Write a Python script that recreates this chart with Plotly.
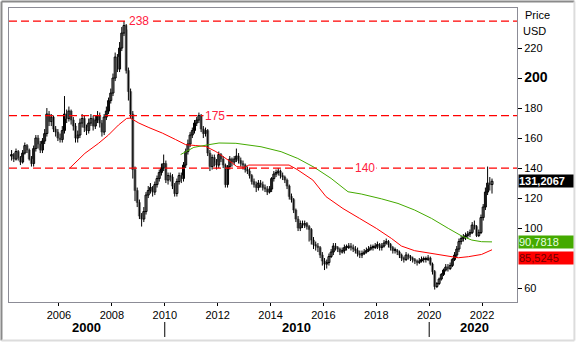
import plotly.graph_objects as go

# ---------------- data (monthly candles, Mar 2004 .. May 2022) ----------------
first_open = 148
close = [
    149,146,151,147,144,150,155,152,146,143,                      # 2004 (Mar-Dec)
    153,160,156,152,158,163,176,171,174,166,164,160,              # 2005
    159,165,176,173,178,172,168,160,162,170,173,167,              # 2006
    165,170,173,168,172,175,170,164,174,178,185,190,              # 2007
    200,214,206,220,230,235,205,191,176,139,125,117,              # 2008
    108,106,111,122,125,127,124,129,133,137,140,143,              # 2009
    132,135,134,128,123,131,135,133,142,151,156,162,              # 2010
    165,170,172,175,166,163,165,150,141,147,144,142,              # 2011
    149,146,142,129,141,146,144,146,148,145,143,142,              # 2012
    139,138,135,131,129,127,130,129,127,126,124,126,              # 2013
    133,136,137,138,135,134,132,128,121,119,112,106,              # 2014
    100,103,102,103,101,99,92,89,88,87,82,78,                     # 2015
    76,77,81,84,88,87,86,84,85,87,87,88,                          # 2016
    87,86,85,83,82,83,84,85,86,87,87,88,                          # 2017
    89,87,88,90,91,89,87,85,85,84,82,80,                          # 2018
    79,82,81,80,79,78,77,78,79,79,79,80,                          # 2019
    76,71,61,63,66,69,72,74,73,75,79,82,                          # 2020
    86,91,93,94,95,96,97,102,101,95,97,107,                       # 2021
    114,124,130,129,131.2067,                                     # 2022 (Jan-May)
]
high = [
    152,150,153,152,148,152,157,156,153,148,
    155,162,162,158,160,166,180,178,176,175,168,166,
    163,168,188,179,181,179,174,170,165,173,176,175,
    169,173,176,175,175,178,177,172,176,181,187,193,
    203,217,216,224,234,238,236,207,193,178,141,127,
    119,110,114,124,128,130,128,131,135,139,143,149,
    145,137,137,136,130,133,137,137,144,153,159,164,
    167,172,174,177,176,168,167,166,152,149,149,146,
    151,150,148,143,142,148,147,148,153,150,147,145,
    143,141,140,136,133,131,132,132,131,129,128,128,
    134,138,139,140,139,137,135,133,129,123,120,113,
    108,105,105,105,104,102,100,94,91,90,88,84,
    80,79,83,86,90,90,88,87,87,89,89,90,
    90,89,88,87,85,85,86,87,88,89,89,90,
    91,90,90,92,93,92,90,88,87,86,85,83,
    81,84,83,82,81,80,79,80,81,81,81,82,
    81,77,72,64,67,70,73,76,76,77,80,84,
    88,93,95,96,97,98,99,104,105,102,99,109,
    116,127,141,134,133,
]
low = [
    145,144,145,145,142,143,149,150,145,141,
    141,151,153,150,150,156,161,168,168,164,161,158,
    157,157,163,170,171,169,165,157,157,160,167,164,
    162,163,168,165,166,170,167,161,162,172,176,183,
    188,198,204,204,218,228,203,185,173,133,118,114,
    106,101,104,109,120,123,121,122,127,131,135,138,
    130,129,131,126,121,121,129,130,131,140,149,154,
    160,163,168,170,164,160,161,148,138,139,141,139,
    140,144,140,127,127,139,141,142,144,143,141,139,
    137,136,133,129,127,124,125,127,125,124,122,123,
    124,131,134,135,133,132,130,126,119,117,110,104,
    98,98,100,100,99,91,89,86,85,84,80,75,
    72,73,75,80,82,85,84,82,83,83,85,86,
    85,84,83,81,80,80,82,83,84,85,85,86,
    86,85,85,87,89,87,85,83,83,82,80,78,
    77,78,79,78,77,76,75,76,77,77,77,78,
    75,69,59,60,62,65,68,71,71,72,74,78,
    80,84,89,91,92,93,94,96,99,94,94,96,
    105,112,122,125,123,
]
start_year, start_month = 2004, 3

# moving averages (decimal year, value)
ma_red_x = [2006.41, 2006.98, 2007.49, 2007.87, 2008.25, 2008.56, 2008.70, 2009.02, 2009.40,
            2009.91, 2010.41, 2010.79, 2011.17, 2011.55, 2011.93, 2012.31, 2012.56, 2012.72,
            2013.03, 2013.18, 2014.70, 2015.00, 2015.60, 2016.10, 2016.74, 2017.37, 2018.00,
            2018.57, 2018.95, 2019.45, 2020.09, 2020.72, 2021.10, 2021.48, 2021.98, 2022.375]
ma_red_y = [140.0, 149.8, 156.4, 162.0, 168.7, 173.1, 173.3, 170.0, 167.0,
            163.3, 159.0, 155.6, 155.0, 154.4, 151.0, 146.7, 143.3, 141.0,
            140.5, 142.0, 142.0, 139.1, 132.0, 120.9, 113.0, 106.4, 99.8,
            93.1, 88.0, 84.9, 83.1, 80.9, 80.2, 80.9, 82.4, 85.5245]
ma_green_x = [2010.60, 2011.10, 2011.67, 2012.05, 2012.69, 2012.88, 2013.64, 2014.40, 2015.03,
              2015.66, 2016.29, 2016.93, 2017.43, 2018.19, 2018.82, 2019.45, 2020.09, 2020.72,
              2021.23, 2021.61, 2021.98, 2022.375]
ma_green_y = [149.0, 153.8, 155.6, 156.7, 156.5, 156.0, 154.2, 150.9, 146.4,
              140.4, 133.1, 124.2, 122.7, 119.5, 116.4, 112.0, 106.4, 99.8,
              94.7, 92.0, 90.9, 90.7818]

levels = [238, 175, 140]
level_label_x = [2008.59, 2011.43, 2017.13]

x_ticks = [2006, 2008, 2010, 2012, 2014, 2016, 2018, 2020, 2022]
y_ticks = [60, 100, 120, 140, 160, 180, 200, 220]   # 80 is hidden behind the value boxes
decade_labels = ["2000", "2010", "2020"]
decade_label_x = [2007.03, 2015.0, 2021.7]
decade_sep_x = [2010, 2020]

last_labels = ["131,2067", "90,7818", "85,5245"]
last_values = [131.2067, 90.7818, 85.5245]

# ---------------- figure ----------------
n = len(close)
xs = [start_year + (start_month - 1 + i + 0.5) / 12.0 for i in range(n)]
opens = [first_open] + close[:-1]

FONT = "Liberation Sans, Arial, sans-serif"
fig = go.Figure()

# wicks
wx, wy = [], []
for x, h, l in zip(xs, high, low):
    wx += [x, x, None]
    wy += [l, h, None]
fig.add_trace(go.Scatter(x=wx, y=wy, mode="lines", line=dict(color="black", width=1),
                         showlegend=False, hoverinfo="skip"))

# bodies
up_x, up_b, up_h, dn_x, dn_b, dn_h = [], [], [], [], [], []
for x, o, c in zip(xs, opens, close):
    b = min(o, c)
    h = max(abs(c - o), 0.7)
    if c >= o:
        up_x.append(x); up_b.append(b); up_h.append(h)
    else:
        dn_x.append(x); dn_b.append(b); dn_h.append(h)
fig.add_trace(go.Bar(x=up_x, y=up_h, base=up_b, width=0.075,
                     marker=dict(color="white", line=dict(color="black", width=1)),
                     showlegend=False, hoverinfo="skip"))
fig.add_trace(go.Bar(x=dn_x, y=dn_h, base=dn_b, width=0.085,
                     marker=dict(color="#6a6a6a", line=dict(color="#6a6a6a", width=0.5)),
                     showlegend=False, hoverinfo="skip"))

fig.add_trace(go.Scatter(x=ma_red_x, y=ma_red_y, mode="lines",
                         line=dict(color="#ff0000", width=1), showlegend=False, hoverinfo="skip"))
fig.add_trace(go.Scatter(x=ma_green_x, y=ma_green_y, mode="lines",
                         line=dict(color="#44aa00", width=1), showlegend=False, hoverinfo="skip"))

shapes = []
annotations = []
for lv, lx in zip(levels, level_label_x):
    shapes.append(dict(type="line", xref="paper", x0=0, x1=1, yref="y", y0=lv, y1=lv,
                       line=dict(color="#ff0000", width=1.3, dash="8px,4px"), layer="above"))
    annotations.append(dict(x=lx, y=lv, xref="x", yref="y", text=str(lv), showarrow=False,
                            xanchor="left", yanchor="middle", bgcolor="white", borderpad=1,
                            font=dict(family=FONT, size=12, color="#ff2040")))

# decade separators below the axis
for sx in decade_sep_x:
    shapes.append(dict(type="line", xref="x", x0=sx, x1=sx, yref="paper", y0=-0.068, y1=-0.119,
                       line=dict(color="black", width=1)))
for t, dx in zip(decade_labels, decade_label_x):
    annotations.append(dict(x=dx, y=-0.088, xref="x", yref="paper", text="<b>" + t + "</b>",
                            showarrow=False, xanchor="center", yanchor="middle",
                            font=dict(family=FONT, size=13, color="black")))

# outer frame
shapes += [
    dict(type="line", xref="paper", yref="paper", x0=-0.0148, x1=1.113, y0=1.022, y1=1.022,
         line=dict(color="#8a8a8a", width=2)),
    dict(type="line", xref="paper", yref="paper", x0=-0.0148, x1=-0.0148, y0=1.022, y1=-0.131,
         line=dict(color="#8a8a8a", width=2)),
    dict(type="line", xref="paper", yref="paper", x0=-0.0148, x1=1.113, y0=-0.131, y1=-0.131,
         line=dict(color="#dcdcdc", width=2)),
    dict(type="line", xref="paper", yref="paper", x0=1.113, x1=1.113, y0=1.022, y1=-0.131,
         line=dict(color="#dcdcdc", width=2)),
]

# Price / USD
annotations.append(dict(x=1, y=0.976, xref="paper", yref="paper", text="Price", showarrow=False,
                        xanchor="left", yanchor="middle", xshift=6,
                        font=dict(family=FONT, size=11, color="black")))
annotations.append(dict(x=1, y=0.922, xref="paper", yref="paper", text="USD", showarrow=False,
                        xanchor="left", yanchor="middle", xshift=4,
                        font=dict(family=FONT, size=11, color="black")))

# last-value boxes
box_styles = [("black", "white", True, 0), ("#44aa00", "#e8ffe0", False, 0), ("#ff0000", "#700000", False, -8)]
for txt, val, (bg, fc, bold, ysh) in zip(last_labels, last_values, box_styles):
    annotations.append(dict(x=1, y=val, xref="paper", yref="y",
                            text=("<b>" + txt + "</b>") if bold else txt, showarrow=False,
                            xanchor="left", yanchor="middle", xshift=1, yshift=ysh,
                            bgcolor=bg, width=54, align="left", borderpad=0,
                            font=dict(family=FONT, size=11, color=fc)))

y_text = [("<b><span style='font-size:14px'>%d</span></b>" % v) if v == 200 else str(v) for v in y_ticks]

fig.update_layout(
    width=577, height=343,
    margin=dict(l=9, r=60, t=8, b=41),
    paper_bgcolor="white", plot_bgcolor="white",
    font=dict(family=FONT, size=11, color="black"),
    shapes=shapes, annotations=annotations,
    barmode="overlay",
    xaxis=dict(range=[2004.11, 2023.32], tickvals=x_ticks, ticktext=[str(v) for v in x_ticks],
               ticks="outside", ticklen=3, tickcolor="black", showgrid=False, zeroline=False,
               showline=True, linecolor="#8c8c96", linewidth=1, mirror=True,
               tickfont=dict(size=11)),
    yaxis=dict(range=[50.7, 246.7], side="right", tickvals=y_ticks, ticktext=y_text,
               ticks="outside", ticklen=4, tickcolor="black", showgrid=False, zeroline=False,
               showline=True, linecolor="#8c8c96", linewidth=1, mirror=True,
               tickfont=dict(size=11)),
    hovermode=False,
)

fig.write_html("out.html")
